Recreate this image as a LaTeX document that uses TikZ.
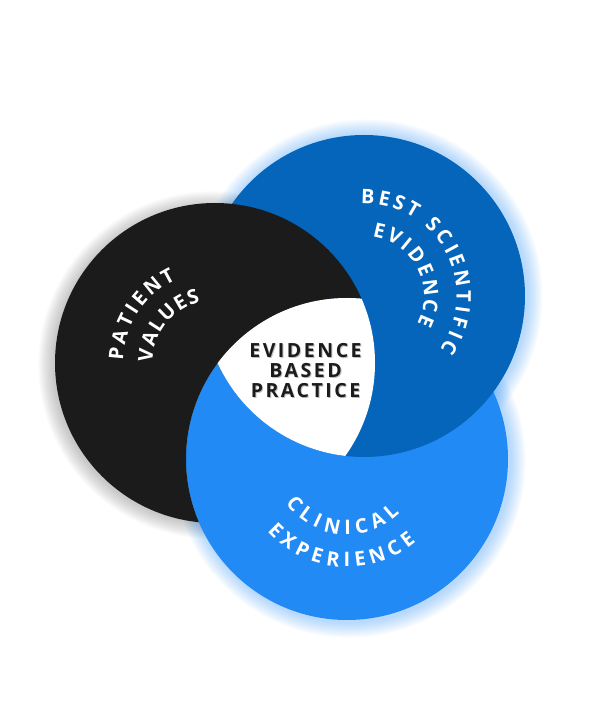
\documentclass[tikz,border=0pt]{standalone}
\usepackage{fontspec}
\newfontfamily\labelfont{Open Sans}
\newfontfamily\centerfont{Open Sans}[LetterSpace=13]
\newcommand\curvefont{\labelfont\bfseries\fontsize{20}{22}\selectfont}
\usetikzlibrary{decorations.text}
\definecolor{pvblack}{HTML}{1B1B1B}
\definecolor{sciblue}{HTML}{0565BA}
\definecolor{clinblue}{HTML}{228AF5}

\begin{document}
\begin{tikzpicture}[x=1pt, y=1pt,
  curved/.style={decorate, decoration={text along path, text align=fit to path,
    text color=white, text={|\curvefont|#1}}},
  glow/.style={fill=#1, fill opacity=0.03},
  ebp/.style={align=center, font=\centerfont\bfseries\fontsize{19.5}{20}\selectfont}]
\useasboundingbox (0,0) rectangle (600,710);
\coordinate (pv) at (215,347);
\coordinate (bse) at (364,414);
\coordinate (ce) at (347,251);
% soft halos
\foreach \g in {1,...,12}{
  \fill[glow=black, fill opacity=0.018] (pv) ++(-3,-2) circle[radius=158+\g*1.3];
  \fill[glow=clinblue] (bse) ++(2,0) circle[radius=161+\g*1.3];
  \fill[glow=clinblue] (ce) ++(2,-2) circle[radius=161+\g*1.3];
}
% interlocking circles
\fill[clinblue] (ce) circle[radius=161];
\fill[sciblue] (bse) circle[radius=161];
\begin{scope}
  \clip (ce) circle[radius=161] (-10,-10) -- (-10,720) -- (610,720) -- (610,-10) -- cycle;
  \fill[pvblack] (pv) circle[radius=160];
\end{scope}
\begin{scope}
  \clip (pv) circle[radius=160];
  \clip (bse) circle[radius=161];
  \fill[white] (ce) circle[radius=161];
\end{scope}
% labels
\path[curved=BEST SCIENTIFIC, shift={(bse)}] (92:92.5) arc[start angle=92, end angle=-35, radius=92.5];
\path[curved=EVIDENCE, shift={(bse)}] (82:60) arc[start angle=82, end angle=-28, radius=60];
\path[curved=PATIENT, shift={(pv)}] (178.5:92) arc[start angle=178.5, end angle=115, radius=92];
\path[curved=VALUES, shift={(pv)}] (179.5:62.5) arc[start angle=179.5, end angle=103.5, radius=62.5];
\path[curved=CLINICAL, shift={(ce)}] (215.7:75.5) arc[start angle=215.7, end angle=314.3, radius=75.5];
\path[curved=EXPERIENCE, shift={(ce)}] (222.3:108) arc[start angle=222.3, end angle=309.7, radius=108];
\node[ebp, text=black, text opacity=0.25] (ebpshade) at (306.5,338) {EVIDENCE\\BASED\\PRACTICE};
\node[ebp, text=pvblack] (ebptext) at (305.5,339) {EVIDENCE\\BASED\\PRACTICE};
\end{tikzpicture}
\end{document}
